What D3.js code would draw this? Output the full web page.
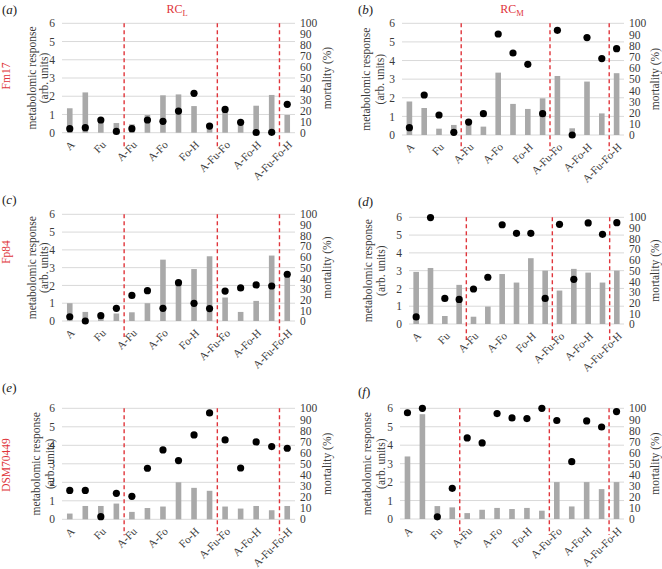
<!DOCTYPE html>
<html>
<head>
<meta charset="utf-8">
<script src="https://cdn.jsdelivr.net/npm/d3@7"></script>
<style>
  html, body { margin: 0; padding: 0; background: #fff; }
  svg { display: block; }
  text { font-family: "Liberation Serif", "Times New Roman", serif; }
</style>
</head>
<body>
<svg id="chart" width="662" height="569"></svg>
<script>
// ---------- data ----------
const categories = ["A","Fo","Fu","H","A-Fu","A-H","A-Fo","Fu-Fo","Fo-H","Fu-H","A-Fu-Fo","A-Fu-H","A-Fo-H","Fu-Fo-H","A-Fu-Fo-H"];
const shownLabels = ["A","Fu","A-Fu","A-Fo","Fo-H","A-Fu-Fo","A-Fo-H","A-Fu-Fo-H"];
const groupEnds = ["H","Fu-H","Fu-Fo-H"]; // dashed separators after these categories
const leftTicks = [0,1,2,3,4,5,6];
const rightTicks = [0,10,20,30,40,50,60,70,80,90,100];

const responseA = [1.34,2.21,0.6,0.53,0.46,0.97,2.05,2.1,1.46,0.4,1.15,0.59,1.48,2.07,0.97];
const mortalityA = [3.7,4.6,11.6,1.2,3.7,11.6,10.4,19.8,36,6.1,21.3,9.5,0.2,0.3,25.9];

const responseB = [1.8,1.45,0.34,0.54,0.65,0.45,3.35,1.67,1.4,1.97,3.17,0.36,2.87,1.16,3.32];
const mortalityB = [6.6,35.8,17.9,2.4,11.6,19.1,90.4,73.4,63.3,19.1,93.7,0,87.2,68.4,77.3];

const responseC = [1.0,0.51,0.3,0.42,0.49,1.0,3.45,2.1,2.92,3.64,1.32,0.51,1.13,3.68,2.6];
const mortalityC = [4,0,5,11.9,24,28.4,11.9,35.9,16.6,11.6,28,31,33.8,32.8,43.8];

const responseD = [2.93,3.15,0.45,2.2,0.41,0.98,2.81,2.33,3.7,3.0,1.88,3.1,2.89,2.33,3.0];
const mortalityD = [6.6,99.7,24,23,32.8,43.8,93,85,85,24,93.4,41.9,94.7,84,95];

const responseE = [0.31,0.72,0.72,0.85,0.4,0.61,0.69,2.0,1.7,1.54,0.69,0.58,0.72,0.49,0.72];
const mortalityE = [26,26,2.4,23.4,20.7,46,62.5,52.9,76,95.8,71.5,46.2,69.7,65.5,64];

const responseF = [3.39,5.68,0.7,0.63,0.32,0.5,0.6,0.54,0.6,0.45,2.0,0.68,2.0,1.62,2.0];
const mortalityF = [96,100,2,27.7,73.2,68.7,95.2,91.3,90.7,100,89,51.8,88.6,83.1,97];

const strainLabels = ["Fm17","Fp84","DSM70449"];

// ---------- layout ----------
const panels = [
  {letter:"a", resp:responseA, mort:mortalityA, L:62,  R:295, T:23.3,  B:132.7, t1:32,  t2:43.5, tr:328, lx:2,   ly:14},
  {letter:"b", resp:responseB, mort:mortalityB, L:402, R:624, T:23.3,  B:135,   t1:366, t2:380,  tr:656, lx:358, ly:14},
  {letter:"c", resp:responseC, mort:mortalityC, L:62,  R:295, T:214.3, B:321,   t1:32,  t2:44,   tr:328, lx:2,   ly:204},
  {letter:"d", resp:responseD, mort:mortalityD, L:409, R:624, T:217.3, B:324,   t1:367.5,t2:381, tr:656, lx:358, ly:206},
  {letter:"e", resp:responseE, mort:mortalityE, L:62,  R:295, T:408.3, B:519.3, t1:36,  t2:50,   tr:328, lx:2,   ly:392},
  {letter:"f", resp:responseF, mort:mortalityF, L:400, R:624, T:408.3, B:519,   t1:367, t2:381,  tr:656, lx:358, ly:396}
];

const svg = d3.select("#chart");
const textCol = "#3a3a3a";
const red = "#e0353b";

panels.forEach(p => {
  const g = svg.append("g");
  const x = d3.scaleBand().domain(categories).range([p.L, p.R]);
  const yL = d3.scaleLinear().domain([0, 6]).range([p.B, p.T]);
  const yR = d3.scaleLinear().domain([0, 100]).range([p.B, p.T]);

  // gridlines
  g.append("g").selectAll("line").data(leftTicks).join("line")
    .attr("x1", p.L).attr("x2", p.R)
    .attr("y1", d => yL(d)).attr("y2", d => yL(d))
    .attr("stroke", "#d9d9d9").attr("stroke-width", 1);

  // left axis
  const la = g.append("g").attr("transform", `translate(${p.L - 2},0)`)
    .call(d3.axisLeft(yL).tickValues(leftTicks).tickSize(0).tickPadding(5).tickFormat(d3.format("d")));
  la.select(".domain").remove();
  la.selectAll("text").attr("fill", textCol).style("font-size", "11.5px")
    .style("font-family", '"Liberation Serif", serif');

  // right axis
  const ra = g.append("g").attr("transform", `translate(${p.R + 1},0)`)
    .call(d3.axisRight(yR).tickValues(rightTicks).tickSize(0).tickPadding(4).tickFormat(d3.format("d")));
  ra.select(".domain").remove();
  ra.selectAll("text").attr("fill", textCol).style("font-size", "11.5px")
    .style("font-family", '"Liberation Serif", serif');

  // bars
  const bw = 5.6;
  g.append("g").selectAll("rect").data(p.resp).join("rect")
    .attr("x", (d, i) => x(categories[i]) + x.bandwidth() / 2 - bw / 2)
    .attr("width", bw)
    .attr("y", d => yL(d))
    .attr("height", d => yL(0) - yL(d))
    .attr("fill", "#a9a9a9");

  // dividers
  g.append("g").selectAll("line").data(groupEnds).join("line")
    .attr("x1", d => x(d) + x.bandwidth()).attr("x2", d => x(d) + x.bandwidth())
    .attr("y1", p.T).attr("y2", p.B + 16)
    .attr("stroke", red).attr("stroke-width", 1.4)
    .attr("stroke-dasharray", "4,3");

  // dots
  g.append("g").selectAll("circle").data(p.mort).join("circle")
    .attr("cx", (d, i) => x(categories[i]) + x.bandwidth() / 2)
    .attr("cy", d => yR(d))
    .attr("r", 3.6)
    .attr("fill", "#000");

  // category labels (every other one shown)
  const xa = g.append("g").attr("transform", `translate(0,${p.B})`)
    .call(d3.axisBottom(x).tickSize(0).tickFormat(d => shownLabels.includes(d) ? d : ""));
  xa.select(".domain").remove();
  xa.selectAll("text")
    .attr("fill", textCol).style("font-size", "11px")
    .style("font-family", '"Liberation Serif", serif')
    .attr("text-anchor", "end")
    .attr("x", 0).attr("y", 0).attr("dy", "0.35em")
    .attr("transform", "translate(3,10) rotate(-45)");

  // left title (two lines)
  const cy = (p.T + p.B) / 2;
  g.append("text").attr("transform", `translate(${p.t1 + 4},${cy}) rotate(-90)`)
    .attr("text-anchor", "middle").attr("fill", textCol).style("font-size", "11.5px")
    .text("metabolomic response");
  g.append("text").attr("transform", `translate(${p.t2 + 4},${cy}) rotate(-90)`)
    .attr("text-anchor", "middle").attr("fill", textCol).style("font-size", "11.5px")
    .text("(arb. units)");

  // right title
  g.append("text").attr("transform", `translate(${p.tr + 3},${cy}) rotate(-90)`)
    .attr("text-anchor", "middle").attr("fill", textCol).style("font-size", "11.5px")
    .text("mortality (%)");

  // panel letter
  const pl = g.append("text").attr("x", p.lx).attr("y", p.ly)
    .attr("fill", "#222").style("font-size", "13px");
  pl.append("tspan").text("(");
  pl.append("tspan").style("font-style", "italic").text(p.letter);
  pl.append("tspan").text(")");
});

// strain labels (left column rows)
[[0, 76], [1, 252], [2, 465]].forEach(([i, cy]) => {
  svg.append("text").attr("transform", `translate(10,${cy}) rotate(-90)`)
    .attr("text-anchor", "middle").attr("fill", red).style("font-size", "11.5px")
    .text(strainLabels[i]);
});

// column headers
function header(cx, sub) {
  const t = svg.append("text").attr("x", cx).attr("y", 13).attr("text-anchor", "middle")
    .attr("fill", red).style("font-size", "12px");
  t.append("tspan").text("RC");
  t.append("tspan").attr("dy", 3).style("font-size", "8.5px").text(sub);
}
header(177, "L");
header(512, "M");
</script>
</body>
</html>
